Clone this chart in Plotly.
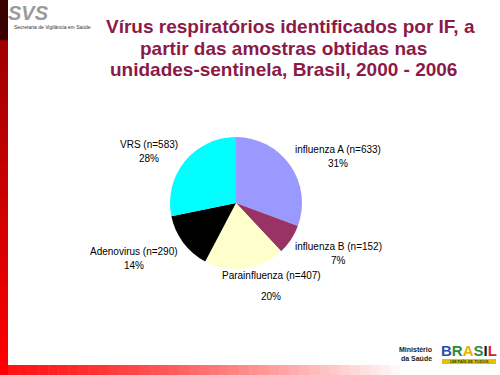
import plotly.graph_objects as go

# ---- data ----
categories = ["influenza A", "influenza B", "Parainfluenza", "Adenovirus", "VRS"]
counts = [633, 152, 407, 290, 583]
colors = ["#9999FF", "#993366", "#FFFFCC", "#000000", "#00FFFF"]
title_lines = ["Vírus respiratórios identificados por IF, a",
               "partir das amostras obtidas nas",
               "unidades-sentinela, Brasil, 2000 - 2006"]

W, H = 500, 375
def px(x, y):
    return x / W, 1 - y / H

total = sum(counts)
pcts = [round(100 * c / total) for c in counts]

fig = go.Figure()
cx, cy, r = 236, 203, 66
x0, y0 = px(cx - r, cy + r)
x1, y1 = px(cx + r, cy - r)
fig.add_trace(go.Pie(
    labels=categories, values=counts, sort=False, direction="clockwise",
    rotation=0, marker=dict(colors=colors, line=dict(width=0)),
    textinfo="none", hoverinfo="skip", showlegend=False,
    domain=dict(x=[x0, x1], y=[y0, y1])))

annotations = []
# label positions (pixel centres of name line and percent line)
label_pos = {
    "influenza A": (338, 149, 163),
    "influenza B": (338, 246, 260),
    "Parainfluenza": (271, 275, 296),
    "Adenovirus": (134, 251, 265),
    "VRS": (149, 144, 158),
}
lab_font = dict(family="Liberation Sans, Arial", size=10, color="#000000")
for cat, n, p in zip(categories, counts, pcts):
    lx, ly1, ly2 = label_pos[cat]
    ax, ay = px(lx, ly1)
    annotations.append(dict(x=ax, y=ay, xref="paper", yref="paper", text=f"{cat} (n={n})",
                            showarrow=False, font=lab_font, xanchor="center", yanchor="middle"))
    ax, ay = px(lx, ly2)
    annotations.append(dict(x=ax, y=ay, xref="paper", yref="paper", text=f"{p}%",
                            showarrow=False, font=lab_font, xanchor="center", yanchor="middle"))

# title
tfont = dict(family="Liberation Sans, Arial", size=19, color="#8C1A48")
title_x = [290, 283, 283]
for i, line in enumerate(title_lines):
    tx, ty = px(title_x[i], 27 + 21.5 * i)
    annotations.append(dict(x=tx, y=ty, xref="paper", yref="paper", text=f"<b>{line}</b>",
                            showarrow=False, font=tfont, xanchor="center", yanchor="middle"))

# SVS logo
sx, sy = px(28, 13)
annotations.append(dict(x=sx, y=sy, xref="paper", yref="paper", text="<b><i>SVS</i></b>",
                        showarrow=False, xanchor="center", yanchor="middle",
                        font=dict(family="Liberation Sans, Arial", size=20, color="#9A9A9A")))
sx, sy = px(12, 27)
annotations.append(dict(x=sx, y=sy, xref="paper", yref="paper",
                        text="Secretaria de Vigilância em Saúde",
                        showarrow=False, xanchor="left", yanchor="middle",
                        font=dict(family="Liberation Sans, Arial", size=5, color="#333333")))

# Ministério da Saúde / BRASIL
mx, my = px(434, 354)
annotations.append(dict(x=mx, y=my, xref="paper", yref="paper",
                        text="<b>Ministério<br>da Saúde</b>", align="right",
                        showarrow=False, xanchor="right", yanchor="middle",
                        font=dict(family="Liberation Sans, Arial", size=7, color="#222222")))
bx, by = px(469, 350)
brasil = ("<b><span style='color:#2255AA'>B</span><span style='color:#2E8B3A'>R</span>"
          "<span style='color:#E8B000'>A</span><span style='color:#2E8B3A'>S</span>"
          "<span style='color:#1A1A1A'>I</span><span style='color:#DD2222'>L</span></b>")
annotations.append(dict(x=bx, y=by, xref="paper", yref="paper", text=brasil,
                        showarrow=False, xanchor="center", yanchor="middle",
                        font=dict(family="Liberation Sans, Arial", size=15)))

shapes = []
# yellow band under BRASIL
a0, b0 = px(442, 364)
a1, b1 = px(496, 359)
shapes.append(dict(type="rect", xref="paper", yref="paper", x0=a0, y0=b0, x1=a1, y1=b1,
                   fillcolor="#E8C000", line=dict(width=0), layer="below"))
ux, uy = px(469, 361.5)
annotations.append(dict(x=ux, y=uy, xref="paper", yref="paper", text="<b>UM PAÍS DE TODOS</b>",
                        showarrow=False, xanchor="center", yanchor="middle",
                        font=dict(family="Liberation Sans, Arial", size=4, color="#1A4A1A")))

# left bar: dark top, red gradient below
a0, b0 = px(0, 41)
a1, b1 = px(8, 0)
shapes.append(dict(type="rect", xref="paper", yref="paper", x0=a0, y0=b0, x1=a1, y1=b1,
                   fillcolor="#3A0000", line=dict(width=0), layer="below"))
nseg = 30
for i in range(nseg):
    ya = 41 + (375 - 41) * i / nseg
    yb = 41 + (375 - 41) * (i + 1) / nseg
    t = i / (nseg - 1)
    rr = int(160 + (255 - 160) * t)
    a0, b0 = px(0, yb)
    a1, b1 = px(8, ya)
    shapes.append(dict(type="rect", xref="paper", yref="paper", x0=a0, y0=b0, x1=a1, y1=b1 + 0.002,
                       fillcolor=f"rgb({rr},0,0)", line=dict(width=0), layer="below"))
# bottom bar gradient red -> white
nseg = 40
for i in range(nseg):
    xa = 8 + (410 - 8) * i / nseg
    xb = 8 + (410 - 8) * (i + 1) / nseg
    t = i / (nseg - 1)
    g = int(20 + (255 - 20) * t ** 1.3)
    a0, b0 = px(xa, 375)
    a1, b1 = px(xb + 0.5, 365)
    shapes.append(dict(type="rect", xref="paper", yref="paper", x0=a0, y0=b0, x1=a1, y1=b1,
                       fillcolor=f"rgb(255,{g},{g})", line=dict(width=0), layer="below"))

fig.update_layout(width=W, height=H, margin=dict(l=0, r=0, t=0, b=0),
                  paper_bgcolor="white", plot_bgcolor="white",
                  annotations=annotations, shapes=shapes)
fig.write_html("out.html", config={"displayModeBar": False},
               post_script="document.body.style.margin='0';document.body.style.overflow='hidden';")
